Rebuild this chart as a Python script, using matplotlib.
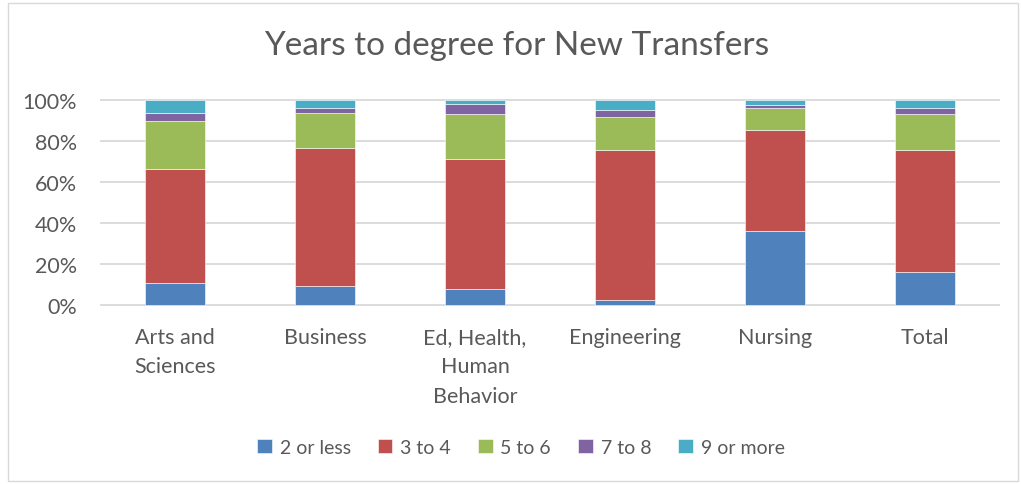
import numpy as np
import matplotlib.pyplot as plt
from matplotlib.patches import Rectangle

plt.rcParams['font.family'] = ['Lato', 'DejaVu Sans']

categories = ["Arts and\nSciences", "Business", "Ed, Health,\nHuman\nBehavior",
              "Engineering", "Nursing", "Total"]
series_names = ["2 or less", "3 to 4", "5 to 6", "7 to 8", "9 or more"]
two_or_less = [10.6, 9.3, 7.8, 2.6, 36.2, 16.1]
three_to_four = [55.7, 67.3, 63.6, 73.2, 49.3, 59.3]
five_to_six = [23.6, 17.1, 21.9, 15.9, 10.8, 17.6]
seven_to_eight = [3.6, 2.2, 4.6, 3.3, 1.3, 2.9]
nine_or_more = [6.5, 4.1, 2.1, 5.0, 2.4, 4.1]
colors = ["#4F81BD", "#C0504D", "#9BBB59", "#8064A2", "#4BACC6"]

series = [two_or_less, three_to_four, five_to_six, seven_to_eight, nine_or_more]

W, H = 1021, 485
fig = plt.figure(figsize=(W / 100, H / 100), dpi=100)
ax = fig.add_axes([100 / W, 178 / H, 900 / W, 207 / H])

x = np.arange(len(categories))
bottom = np.zeros(len(categories))
for name, vals, col in zip(series_names, series, colors):
    vals = np.array(vals) / 100.0
    ax.bar(x, vals, width=0.4, bottom=bottom, color=col, label=name,
           edgecolor="white", linewidth=0.4, zorder=3)
    bottom += vals

ax.set_xlim(-0.5, len(categories) - 0.5)
ax.set_ylim(-0.005, 1.005)
ax.set_yticks(np.arange(0, 1.01, 0.2))
ax.set_yticklabels([f"{int(v * 100)}%" for v in np.arange(0, 1.01, 0.2)])
ax.set_xticks(x)
ax.set_xticklabels(categories, linespacing=1.6)
ax.tick_params(axis="both", length=0, labelsize=15.5, labelcolor="#595959")
ax.tick_params(axis="x", pad=15)
ax.tick_params(axis="y", pad=16.5)
for s in ax.spines.values():
    s.set_visible(False)
ax.yaxis.grid(True, color="#d9d9d9", linewidth=1.3, zorder=0)
ax.set_axisbelow(True)

fig.text(517 / W, 1 - 46 / H, "Years to degree for New Transfers", ha="center",
         va="center", fontsize=24, color="#595959")

fig.legend(loc="center", bbox_to_anchor=(521 / W, 1 - 448 / H), ncol=5,
           frameon=False, fontsize=14, handlelength=0.75, handleheight=0.75,
           handletextpad=0.4, columnspacing=1.4, labelcolor="#595959")

fig.patches.append(Rectangle((8 / W, 3 / H), 1010 / W, 478 / H, transform=fig.transFigure,
                             fill=False, edgecolor="#d9d9d9", linewidth=1))

fig.savefig("out.png", dpi=100)
